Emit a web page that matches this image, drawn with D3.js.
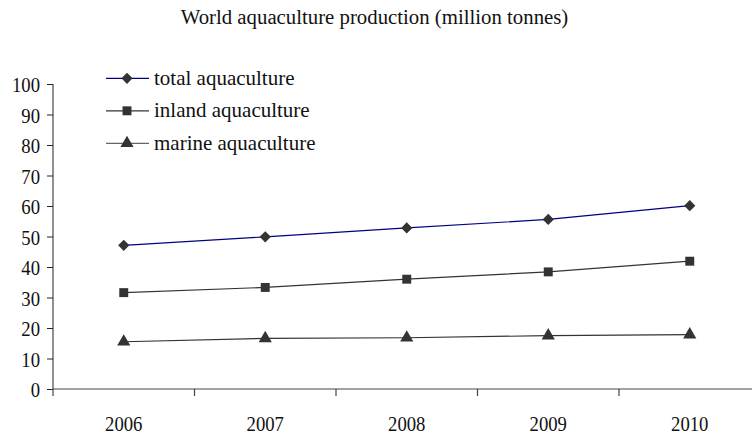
<!DOCTYPE html>
<html>
<head>
<meta charset="utf-8">
<script src="https://cdn.jsdelivr.net/npm/d3@7/dist/d3.min.js"></script>
<style>
  html, body { margin: 0; padding: 0; background: #fff; }
  svg { display: block; }
</style>
</head>
<body>
<svg id="chart" width="752" height="436"></svg>
<script>
// World aquaculture production, million tonnes
const years = ["2006", "2007", "2008", "2009", "2010"];
const totalAquaculture = [47.1, 49.9, 52.8, 55.6, 60.1];
const inlandAquaculture = [31.6, 33.3, 36.0, 38.4, 41.9];
const marineAquaculture = [15.5, 16.6, 16.8, 17.5, 17.8];
const yTicks = [0, 10, 20, 30, 40, 50, 60, 70, 80, 90, 100];
const seriesNames = ["total aquaculture", "inland aquaculture", "marine aquaculture"];

const FONT = "'Liberation Serif', 'Times New Roman', 'DejaVu Serif', serif";

const series = [
  { name: seriesNames[0], values: totalAquaculture, line: "#000080", legendLine: "#000080", symbol: d3.symbolDiamond2 },
  { name: seriesNames[1], values: inlandAquaculture, line: "#333", legendLine: "#333", symbol: d3.symbolSquare },
  { name: seriesNames[2], values: marineAquaculture, line: "#333", legendLine: "#666", symbol: d3.symbolTriangle }
];

const svg = d3.select("#chart").attr("font-family", FONT);

const x = d3.scaleBand().domain(years).range([53, 760.5]);
const y = d3.scaleLinear().domain([0, 100]).range([389, 84]);

// Slightly condensed numerals for the axis labels
function condense(sel, k) {
  sel.each(function () {
    const len = this.getComputedTextLength();
    d3.select(this).attr("textLength", len * k).attr("lengthAdjust", "spacingAndGlyphs");
  });
}

// Title
svg.append("text")
  .attr("x", 374.5).attr("y", 23.5)
  .attr("text-anchor", "middle")
  .attr("font-size", 20.8)
  .attr("fill", "#111")
  .text("World aquaculture production (million tonnes)");

// Y axis
const yAxis = svg.append("g")
  .attr("transform", "translate(53,0)")
  .call(d3.axisLeft(y).tickValues(yTicks).tickSize(6).tickPadding(7));
yAxis.attr("font-family", FONT).attr("font-size", 21);
yAxis.select(".domain").attr("stroke", "#222").attr("d", `M0,${y(100)}V${y(0)}`);
yAxis.selectAll(".tick line").attr("stroke", "#222");
yAxis.selectAll("text").attr("fill", "#111").attr("dy", "0.38em").call(condense, 0.89);

// X axis with ticks at category boundaries
const xAxisG = svg.append("g").attr("transform", `translate(0,${y(0)})`);
xAxisG.append("line")
  .attr("x1", 53).attr("x2", 752)
  .attr("stroke", "#444").attr("stroke-width", 1.2);
const boundaries = years.map(d => x(d)).concat([x.range()[1]]);
xAxisG.selectAll(".xt").data(boundaries).join("line")
  .attr("class", "xt")
  .attr("x1", d => d).attr("x2", d => d)
  .attr("y1", 0).attr("y2", 7)
  .attr("stroke", "#444").attr("stroke-width", 1.2);
xAxisG.selectAll(".xl").data(years).join("text")
  .attr("class", "xl")
  .attr("x", d => x(d) + x.bandwidth() / 2)
  .attr("y", 42)
  .attr("text-anchor", "middle")
  .attr("font-size", 21)
  .attr("fill", "#111")
  .text(d => d)
  .call(condense, 0.89);

const cx = d => x(d) + x.bandwidth() / 2;

// Lines and markers
series.forEach(s => {
  const pts = years.map((yr, i) => [cx(yr), y(s.values[i])]);
  svg.append("path")
    .attr("d", d3.line()(pts))
    .attr("fill", "none")
    .attr("stroke", s.line)
    .attr("stroke-width", 1.2);
  svg.selectAll(null).data(pts).join("path")
    .attr("transform", d => `translate(${d[0]},${d[1]})`)
    .attr("d", d3.symbol().type(s.symbol).size(s.symbol === d3.symbolTriangle ? 75 : 80))
    .attr("fill", "#333");
});

// Legend
const legend = svg.append("g");
series.forEach((s, i) => {
  const ly = 78.3 + i * 32.5;
  legend.append("line")
    .attr("x1", 106).attr("x2", 149).attr("y1", ly).attr("y2", ly)
    .attr("stroke", s.legendLine).attr("stroke-width", 1.2);
  legend.append("path")
    .attr("transform", `translate(127,${ly})`)
    .attr("d", d3.symbol().type(s.symbol).size(s.symbol === d3.symbolTriangle ? 75 : 80))
    .attr("fill", "#333");
  legend.append("text")
    .attr("x", 154).attr("y", ly + 6.5)
    .attr("font-size", 21)
    .attr("fill", "#111")
    .text(s.name);
});
</script>
</body>
</html>
